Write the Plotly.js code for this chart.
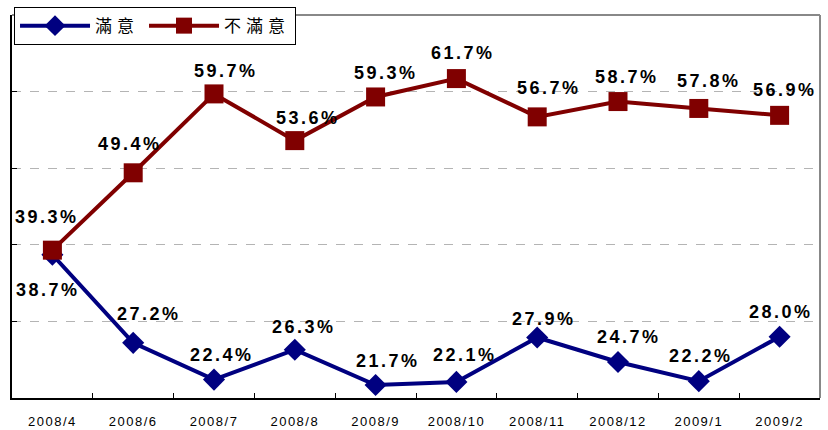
<!DOCTYPE html>
<html>
<head>
<meta charset="utf-8">
<script src="https://cdn.plot.ly/plotly-3.0.1.min.js"></script>
<style>
html, body { margin: 0; padding: 0; background: #fff; }
#chart { width: 828px; height: 430px; }
.annotation-text { letter-spacing: 2.5px; }
.xtick text { letter-spacing: 1.5px; }
.legendtext { letter-spacing: 5px; }
</style>
</head>
<body>
<div id="chart"></div>
<script>
// ---- data ----
const months = ["2008/4", "2008/6", "2008/7", "2008/8", "2008/9", "2008/10", "2008/11", "2008/12", "2009/1", "2009/2"];
const satisfied = [38.7, 27.2, 22.4, 26.3, 21.7, 22.1, 27.9, 24.7, 22.2, 28.0];
const dissatisfied = [39.3, 49.4, 59.7, 53.6, 59.3, 61.7, 56.7, 58.7, 57.8, 56.9];
const seriesNames = ["滿意", "不滿意"];

// label offsets (pixels: [xshift, yshift]) – layout only
const satShift = [[-4, -35], [16, 29], [8, 25], [9, 23], [12, 24], [9, 27], [7, 18], [11, 25], [2, 25], [1, 25]];
const disShift = [[-5, 33], [-3, 29], [12, 23], [13, 23], [10, 24], [7, 26], [12, 29], [9, 25], [10, 27], [5, 25]];

const blue = "#000080";
const red = "#800000";

const traces = [
  {
    x: months, y: satisfied, name: seriesNames[0], type: "scatter", mode: "lines+markers",
    line: { color: blue, width: 4 },
    marker: { symbol: "diamond", size: 17, color: blue }
  },
  {
    x: months, y: dissatisfied, name: seriesNames[1], type: "scatter", mode: "lines+markers",
    line: { color: red, width: 4 },
    marker: { symbol: "square", size: 19, color: red }
  }
];

const labelFont = { family: "Liberation Sans, Arial, sans-serif", size: 18, color: "#000", weight: "bold" };
const annotations = [];
months.forEach((m, i) => {
  annotations.push({
    x: m, y: dissatisfied[i], xref: "x", yref: "y", showarrow: false,
    text: dissatisfied[i].toFixed(1) + "%", font: labelFont,
    xshift: disShift[i][0], yshift: disShift[i][1]
  });
  annotations.push({
    x: m, y: satisfied[i], xref: "x", yref: "y", showarrow: false,
    text: satisfied[i].toFixed(1) + "%", font: labelFont,
    xshift: satShift[i][0], yshift: satShift[i][1]
  });
});

const layout = {
  width: 828, height: 430,
  margin: { l: 12, r: 8, t: 14, b: 32 },
  paper_bgcolor: "#fff", plot_bgcolor: "#fff",
  showlegend: true,
  legend: {
    orientation: "h", x: 0.0025, xanchor: "left", y: 1.018, yanchor: "top",
    bgcolor: "#fff", bordercolor: "#000", borderwidth: 1,
    font: { family: "Noto Sans CJK TC, sans-serif", size: 17, color: "#000" },
    itemwidth: 70, tracegroupgap: 0
  },
  xaxis: {
    type: "category", range: [-0.5, 9.5],
    showline: true, linecolor: "#000", linewidth: 2,
    ticks: "inside", tickson: "boundaries", ticklen: 5, tickcolor: "#000", tickwidth: 1,
    showgrid: false, zeroline: false,
    tickfont: { family: "Liberation Sans, Arial, sans-serif", size: 13, color: "#000" },
    ticklabelstandoff: 10
  },
  yaxis: {
    range: [20, 70], dtick: 10, tick0: 20,
    showline: true, linecolor: "#000", linewidth: 2,
    ticks: "inside", ticklen: 5, tickcolor: "#000",
    showticklabels: false,
    showgrid: true, gridcolor: "#b4b4b4", griddash: "dash", gridwidth: 1,
    zeroline: false
  },
  shapes: [
    { type: "line", xref: "paper", yref: "paper", x0: 0, x1: 1, y0: 1, y1: 1, line: { color: "#888", width: 2 } },
    { type: "line", xref: "paper", yref: "paper", x0: 1, x1: 1, y0: 0, y1: 1, line: { color: "#888", width: 2 } }
  ],
  annotations: annotations
};

Plotly.newPlot("chart", traces, layout, { displayModeBar: false, staticPlot: true });
</script>
</body>
</html>
